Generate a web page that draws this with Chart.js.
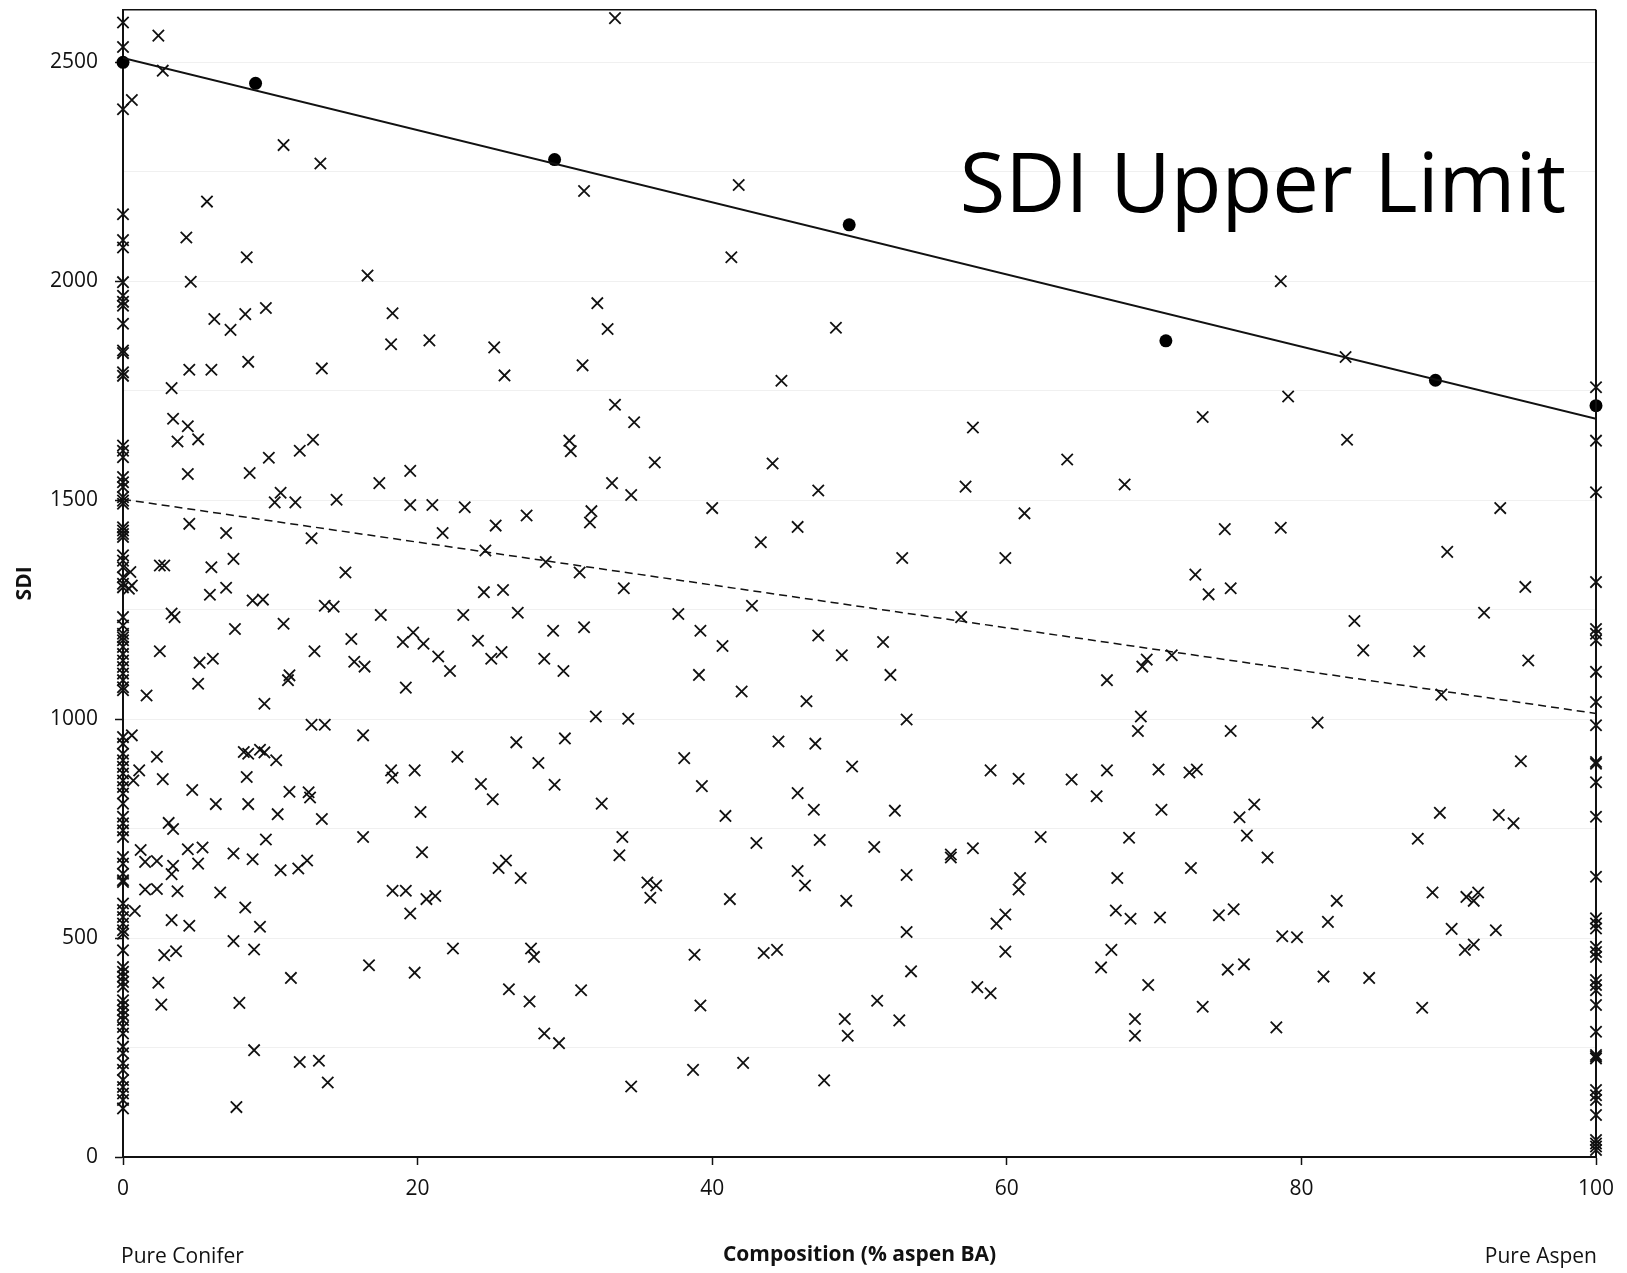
<!DOCTYPE html>
<html>
<head>
<meta charset="utf-8">
<title>SDI Upper Limit</title>
<script src="https://cdn.jsdelivr.net/npm/chart.js@4.4.1/dist/chart.umd.min.js"></script>
<style>
  html, body { margin: 0; padding: 0; background: #fff; }
  #wrap { width: 1627px; height: 1273px; }
</style>
</head>
<body>
<div id="wrap"><canvas id="sdiChart" width="1627" height="1273"></canvas></div>
<script>
// stands at 0 % aspen (pure conifer) - SDI only
var pureConiferSDI = [2591, 2535, 2393, 2153, 2094, 2077, 1998, 1967, 1953, 1944, 1903, 1842, 1836,
  1792, 1784, 1625, 1613, 1598, 1553, 1541, 1530, 1507, 1499, 1492, 1438, 1431, 1423, 1416, 1374,
  1362, 1347, 1324, 1309, 1301, 1233, 1214, 1195, 1187, 1180, 1165, 1149, 1134, 1119, 1104, 1089,
  1073, 1066, 959, 944, 921, 906, 891, 876, 860, 845, 830, 807, 777, 762, 746, 731, 685, 670, 647,
  632, 628, 579, 564, 548, 533, 518, 510, 472, 434, 423, 412, 400, 389, 358, 347, 335, 324, 313,
  297, 282, 252, 237, 214, 199, 176, 160, 145, 130, 111];

// stands at 100 % aspen (pure aspen) - SDI only
var pureAspenSDI = [1758, 1636, 1518, 1313, 1206, 1195, 1180, 1108, 1039, 986, 902, 898, 856, 777,
  640, 545, 533, 522, 480, 468, 457, 404, 393, 381, 347, 286, 233, 229, 225, 153, 141, 130, 96,
  39, 31, 24, 16];

// mixed stands: [composition (% aspen BA), SDI]
var mixedStands = [
  [2.4, 2561], [2.7, 2481], [0.6, 2414], [10.9, 2311], [13.4, 2269], [5.7, 2182], [4.3, 2100],
  [8.4, 2055], [4.6, 1999], [16.6, 2013], [33.4, 2601], [31.3, 2206], [41.8, 2220], [41.3, 2055],
  [78.6, 2000],
  [6.2, 1914], [7.3, 1889], [8.3, 1925], [9.7, 1939], [4.5, 1798], [6.0, 1798], [8.5, 1816],
  [3.3, 1756], [3.4, 1686], [4.4, 1669], [3.7, 1634], [5.1, 1639], [4.4, 1560], [8.6, 1562],
  [9.9, 1597], [12.0, 1613], [10.7, 1517], [10.3, 1495], [11.7, 1495], [4.5, 1446], [7.0, 1425],
  [7.5, 1366], [6.0, 1347], [2.5, 1351], [2.8, 1351], [0.5, 1336], [0.6, 1305], [0.4, 1298],
  [5.9, 1284], [7.0, 1300], [8.8, 1271], [9.5, 1273], [3.3, 1241], [3.5, 1233], [7.6, 1206],
  [10.9, 1218], [2.5, 1155], [5.2, 1129], [6.1, 1138], [5.1, 1081], [11.2, 1089], [11.3, 1100],
  [1.6, 1054], [9.6, 1035],
  [0.6, 963], [2.3, 914], [1.1, 883], [0.7, 860], [2.7, 863], [4.7, 838], [6.3, 806], [8.2, 925],
  [8.5, 921], [9.3, 930], [9.6, 924], [10.4, 906], [8.4, 868], [8.5, 806], [11.3, 834], [10.5, 783],
  [3.1, 763], [3.4, 749], [9.7, 725], [1.2, 701], [4.4, 703], [5.4, 707], [1.5, 674], [2.3, 676],
  [3.4, 665], [3.3, 646], [5.1, 670], [7.5, 693], [8.8, 680], [10.7, 655], [11.9, 659], [1.5, 611],
  [2.3, 612], [3.7, 607], [6.6, 604], [0.8, 562], [8.3, 570], [3.3, 541], [4.5, 528], [9.3, 526],
  [7.5, 493], [2.8, 461], [3.6, 470], [8.9, 474], [11.4, 409], [2.4, 398], [2.6, 348], [7.9, 352],
  [8.9, 244], [12.0, 217], [7.7, 114],
  [32.2, 1950], [18.3, 1927], [32.9, 1891], [48.4, 1894], [20.8, 1865], [18.2, 1856], [25.2, 1849],
  [13.5, 1801], [31.2, 1808], [25.9, 1785], [44.7, 1773], [83.0, 1827], [33.4, 1718], [79.1, 1737],
  [73.3, 1690], [34.7, 1678], [57.7, 1666], [83.1, 1638], [12.9, 1638], [30.3, 1636], [30.4, 1612],
  [44.1, 1584], [36.1, 1586], [64.1, 1593], [19.5, 1567], [17.4, 1539], [33.2, 1539], [57.2, 1531],
  [68.0, 1536], [47.2, 1522], [34.5, 1512], [14.5, 1501], [19.5, 1489], [21.0, 1489], [23.2, 1484],
  [40.0, 1482], [93.5, 1482], [61.2, 1470], [31.8, 1475], [27.4, 1465], [31.7, 1449], [25.3, 1442],
  [45.8, 1439], [78.6, 1437], [74.8, 1434], [21.7, 1425], [12.8, 1413], [43.3, 1404], [89.9, 1382],
  [24.6, 1385], [52.9, 1368], [59.9, 1368], [28.7, 1359], [15.1, 1335], [31.0, 1335], [72.8, 1330],
  [75.2, 1299], [73.7, 1285], [95.2, 1302], [34.0, 1299], [25.8, 1295], [24.5, 1290], [13.7, 1259],
  [14.3, 1257], [42.7, 1259], [26.8, 1243], [23.1, 1238], [17.5, 1238], [56.9, 1233], [37.7, 1240],
  [92.4, 1243], [83.6, 1224], [29.2, 1202], [31.3, 1210], [39.2, 1202], [19.7, 1198], [47.2, 1191],
  [15.5, 1183], [51.6, 1176], [24.1, 1179], [19.0, 1176], [20.4, 1172], [40.7, 1167], [25.7, 1153],
  [88.0, 1155], [84.2, 1157], [13.0, 1155], [48.8, 1146], [71.2, 1146], [21.4, 1143], [69.5, 1136],
  [15.7, 1131], [25.0, 1138], [95.4, 1134], [28.6, 1138], [16.4, 1120], [69.2, 1120], [22.2, 1110],
  [29.9, 1110], [52.1, 1101], [39.1, 1101], [66.8, 1089], [19.2, 1072], [42.0, 1063], [89.5, 1056],
  [46.4, 1041], [81.1, 992], [69.1, 1006], [53.2, 999], [34.3, 1001], [32.1, 1006], [12.8, 987],
  [13.7, 987], [68.9, 973], [75.2, 973], [16.3, 963], [44.5, 949], [47.0, 944], [30.0, 956],
  [26.7, 947], [22.7, 914], [38.1, 911], [28.2, 900], [49.5, 892], [94.9, 904], [58.9, 883],
  [66.8, 883], [70.3, 885], [72.4, 878], [72.9, 885], [18.2, 883], [19.8, 883], [18.3, 866],
  [60.8, 864], [64.4, 862], [24.3, 852], [29.3, 850], [39.3, 847], [12.6, 833], [45.8, 831],
  [66.1, 824], [12.7, 821], [25.1, 817], [32.5, 807], [76.8, 805], [46.9, 793], [52.4, 791],
  [70.5, 793], [20.2, 788], [89.4, 786], [93.4, 781], [40.9, 779], [75.8, 776], [13.5, 772],
  [94.4, 762], [76.3, 734], [16.3, 731], [33.9, 731], [62.3, 731], [68.3, 729], [87.9, 727],
  [47.3, 724], [43.0, 717], [51.0, 708], [57.7, 705], [56.2, 691], [56.2, 684], [20.3, 696],
  [33.7, 689], [77.7, 684], [12.5, 677], [26.0, 677], [25.5, 660], [72.5, 660], [45.8, 653],
  [53.2, 644], [60.9, 637], [67.5, 637], [27.0, 637], [35.6, 627], [36.2, 620], [46.3, 620],
  [60.8, 611], [18.3, 608], [19.2, 608], [88.9, 604], [92.0, 604], [91.2, 594], [91.7, 585],
  [21.2, 596], [20.6, 589], [35.8, 592], [41.2, 589], [82.4, 585], [49.1, 585], [75.4, 566],
  [67.4, 563], [19.5, 556], [59.9, 554], [74.4, 552], [70.4, 547], [68.4, 544], [81.8, 537],
  [59.3, 533], [90.2, 521], [93.2, 518], [53.2, 514], [78.7, 504], [79.7, 502], [91.7, 485],
  [22.4, 476], [27.7, 476], [67.1, 473], [91.1, 473], [44.4, 473], [43.5, 466], [59.9, 469],
  [38.8, 462], [27.9, 457], [16.7, 438], [76.1, 440], [66.4, 433], [75.0, 428], [53.5, 424],
  [19.8, 421], [81.5, 412], [84.6, 409], [69.6, 393], [58.0, 388], [26.2, 383], [31.1, 381],
  [58.9, 374], [51.2, 357], [27.6, 355], [39.2, 346], [73.3, 343], [88.2, 341], [49.0, 315],
  [68.7, 315], [52.7, 312], [78.3, 296], [28.6, 282], [49.2, 277], [68.7, 277], [29.6, 260],
  [13.3, 220], [42.1, 215], [38.7, 199], [47.6, 175], [13.9, 170], [34.5, 161]
];

// upper limit points (filled dots)
var limitComp = [0, 9.0, 29.3, 49.3, 70.8, 89.1, 100];
var limitSDI  = [2500, 2452, 2278, 2129, 1864, 1774, 1716];

// fitted lines, end points at 0 and 100 % aspen
var lineComp     = [0, 100];
var upperFitSDI  = [2510, 1686];
var meanFitSDI   = [1502, 1013];

var textColor = '#111';
Chart.defaults.font.family = "'Open Sans', 'DejaVu Sans', sans-serif";
Chart.defaults.font.size = 21;
Chart.defaults.color = textColor;

function toPoints(xs, ys) {
  return xs.map(function (x, i) { return { x: x, y: ys[i] }; });
}

var crossStyle = {
  showLine     : false,
  pointStyle   : 'crossRot',
  pointRadius  : 8,
  borderColor  : '#111',
  borderWidth  : 1.8,
  clip         : false
};

// frame on top / right and the free text labels
var framePlugin = {
  id: 'frameAndLabels',
  afterDraw: function (chart) {
    var ctx = chart.ctx, a = chart.chartArea;
    ctx.save();
    ctx.strokeStyle = '#111';
    ctx.lineWidth = 1.5;
    ctx.beginPath();
    ctx.moveTo(a.left, a.top);
    ctx.lineTo(a.right, a.top);
    ctx.stroke();
    ctx.lineWidth = 2;
    ctx.beginPath();
    ctx.moveTo(a.right, a.top);
    ctx.lineTo(a.right, a.bottom);
    ctx.stroke();

    ctx.fillStyle = '#000';
    ctx.textBaseline = 'alphabetic';
    ctx.font = "83px 'Open Sans', sans-serif";
    ctx.textAlign = 'right';
    ctx.fillText('SDI Upper Limit', 1566, 212);

    ctx.fillStyle = textColor;
    ctx.font = "21px 'Open Sans', sans-serif";
    ctx.textAlign = 'left';
    ctx.fillText('Pure Conifer', 121, 1263);
    ctx.textAlign = 'right';
    ctx.fillText('Pure Aspen', 1597, 1263);
    ctx.restore();
  }
};

var ctx = document.getElementById('sdiChart').getContext('2d');
var sdiChart = new Chart(ctx, {
  type: 'scatter',
  data: {
    datasets: [
      {
        label       : 'Upper limit',
        type        : 'line',
        data        : toPoints(lineComp, upperFitSDI),
        borderColor : '#111',
        borderWidth : 1.8,
        pointRadius : 0,
        fill        : false
      },
      {
        label       : 'Mean',
        type        : 'line',
        data        : toPoints(lineComp, meanFitSDI),
        borderColor : '#111',
        borderWidth : 1.5,
        borderDash  : [8, 5],
        pointRadius : 0,
        fill        : false
      },
      {
        label           : 'Upper limit points',
        data            : toPoints(limitComp, limitSDI),
        pointStyle      : 'circle',
        pointRadius     : 6.5,
        backgroundColor : '#000',
        borderColor     : '#000',
        borderWidth     : 0,
        clip            : false
      },
      Object.assign({ label: 'Pure conifer', data: pureConiferSDI.map(function (v) { return { x: 0, y: v }; }) }, crossStyle),
      Object.assign({ label: 'Mixed', data: mixedStands.map(function (p) { return { x: p[0], y: p[1] }; }) }, crossStyle),
      Object.assign({ label: 'Pure aspen', data: pureAspenSDI.map(function (v) { return { x: 100, y: v }; }) }, crossStyle)
    ]
  },
  options: {
    responsive : false,
    animation  : false,
    layout     : { padding: { top: 9, right: 31, bottom: 0, left: 0 } },
    plugins    : { legend: { display: false }, tooltip: { enabled: false } },
    scales: {
      x: {
        type : 'linear',
        min  : 0,
        max  : 100,
        ticks: { stepSize: 20, padding: 11, color: textColor,
                 callback: function (v) { return String(v); } },
        grid : { drawOnChartArea: false, tickLength: 8, tickColor: '#111', tickWidth: 1.5 },
        border: { display: true, color: '#111', width: 2 },
        title: { display: true, text: 'Composition (% aspen BA)', color: textColor,
                 font: { weight: 'bold', size: 21 }, padding: { top: 0, bottom: 5 } },
        afterFit: function (s) { s.height = 116; s.paddingLeft = 0; s.paddingRight = 0; }
      },
      y: {
        min  : 0,
        max  : 2620,
        ticks: { stepSize: 250, includeBounds: false, padding: 17, color: textColor,
                 callback: function (v) { return v % 500 === 0 ? String(v) : ''; } },
        grid : {
          color    : function (c) { return c.tick && c.tick.value === 0 ? 'rgba(0,0,0,0)' : '#f0f0f0'; },
          tickColor: function (c) { return c.tick && c.tick.value % 500 === 0 ? '#111' : 'rgba(0,0,0,0)'; },
          tickLength: 8,
          lineWidth : 1,
          tickWidth : 1.5
        },
        border: { display: true, color: '#111', width: 2 },
        title: { display: true, text: 'SDI', color: textColor,
                 font: { weight: 'bold', size: 21 }, padding: { top: 12, bottom: 0 } },
        afterFit: function (s) { s.width = 123; s.paddingTop = 0; s.paddingBottom = 0; }
      }
    }
  },
  plugins: [framePlugin]
});
</script>
</body>
</html>
